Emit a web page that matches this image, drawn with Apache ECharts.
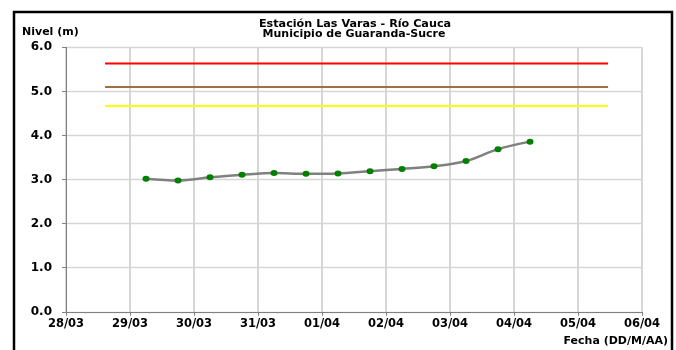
<!DOCTYPE html>
<html>
<head>
<meta charset="utf-8">
<script src="https://cdn.jsdelivr.net/npm/echarts@6/dist/echarts.min.js"></script>
<style>
html,body{margin:0;padding:0;background:#fff;}
#c{width:676px;height:350px;}
</style>
</head>
<body>
<div id="c"></div>
<script>
// Tick labels of the date axis (days since 28/03)
var dayLabels = ['28/03','29/03','30/03','31/03','01/04','02/04','03/04','04/04','05/04','06/04'];
// Observation times, in days since 28/03 00:00
var obsDays = [1.25, 1.75, 2.25, 2.75, 3.25, 3.75, 4.25, 4.75, 5.25, 5.75, 6.25, 6.75, 7.25];
// Observed level (m)
var obsLevel = [3.02, 2.98, 3.05, 3.11, 3.15, 3.13, 3.14, 3.19, 3.24, 3.30, 3.42, 3.69, 3.86];
// Alert thresholds (m): red, brown, yellow
var alertNames = ['Roja', 'Naranja', 'Amarilla'];
var alertLevels = [5.63, 5.10, 4.67];
var alertColors = ['#FF0000', '#A0703C', '#FFFF00'];
var alertSpan = [0.61, 8.47];

var titleLines = ['Estación Las Varas - Río Cauca', 'Municipio de Guaranda-Sucre'];
var yName = 'Nivel (m)';
var xName = 'Fecha (DD/M/AA)';

var chart = echarts.init(document.getElementById('c'), null, {renderer: 'canvas'});
var font = 'DejaVu Sans, Verdana, sans-serif';

var series = alertLevels.map(function (lv, i) {
  return {
    name: alertNames[i], type: 'line', symbol: 'none', silent: true,
    lineStyle: {color: alertColors[i], width: 2},
    data: [[alertSpan[0], lv], [alertSpan[1], lv]],
    z: 2
  };
});
series.push({
  name: 'Nivel', type: 'line', smooth: 0.35,
  data: obsDays.map(function (d, i) { return [d, obsLevel[i]]; }),
  lineStyle: {color: '#808080', width: 2.5},
  symbol: 'circle', symbolSize: [7, 6],
  itemStyle: {color: '#008000'},
  z: 3
});

function txt(s, x, y, align, size) {
  return {type: 'text', x: x, y: y, silent: true, z: 10,
    style: {text: s, align: align, verticalAlign: 'middle', fill: '#000',
      font: 'bold ' + size + 'px ' + font}};
}

chart.setOption({
  animation: false,
  backgroundColor: '#fff',
  graphic: [
    {type: 'rect', shape: {x: 14, y: 12, width: 658, height: 400},
     style: {fill: 'none', stroke: '#000', lineWidth: 2.5}, silent: true},
    txt(titleLines[0], 355, 24, 'center', 11.2),
    txt(titleLines[1], 354, 33.8, 'center', 11),
    txt(yName, 22, 31.7, 'left', 11),
    txt(xName, 668, 341.5, 'right', 11)
  ],
  grid: {left: 66, right: 34, top: 47.3, bottom: 38.2, containLabel: false},
  xAxis: {
    type: 'value', min: 0, max: 9, interval: 1,
    axisLine: {lineStyle: {color: '#808080', width: 1}},
    axisTick: {show: true, length: 4, lineStyle: {color: '#808080'}},
    splitLine: {show: true, lineStyle: {color: '#D6D6D6', width: 2}},
    axisLabel: {formatter: function (v) { return dayLabels[Math.round(v)]; },
      fontFamily: font, fontSize: 11.5, fontWeight: 'bold', color: '#000', margin: 6}
  },
  yAxis: {
    type: 'value', min: 0, max: 6, interval: 1,
    axisLine: {show: true, lineStyle: {color: '#808080', width: 1}},
    axisTick: {show: true, length: 4, lineStyle: {color: '#808080'}},
    splitLine: {show: true, lineStyle: {color: '#D6D6D6', width: 1.4}},
    axisLabel: {formatter: function (v) { return v.toFixed(1); },
      fontFamily: font, fontSize: 12, fontWeight: 'bold', color: '#000', margin: 14}
  },
  series: series
});
</script>
</body>
</html>
